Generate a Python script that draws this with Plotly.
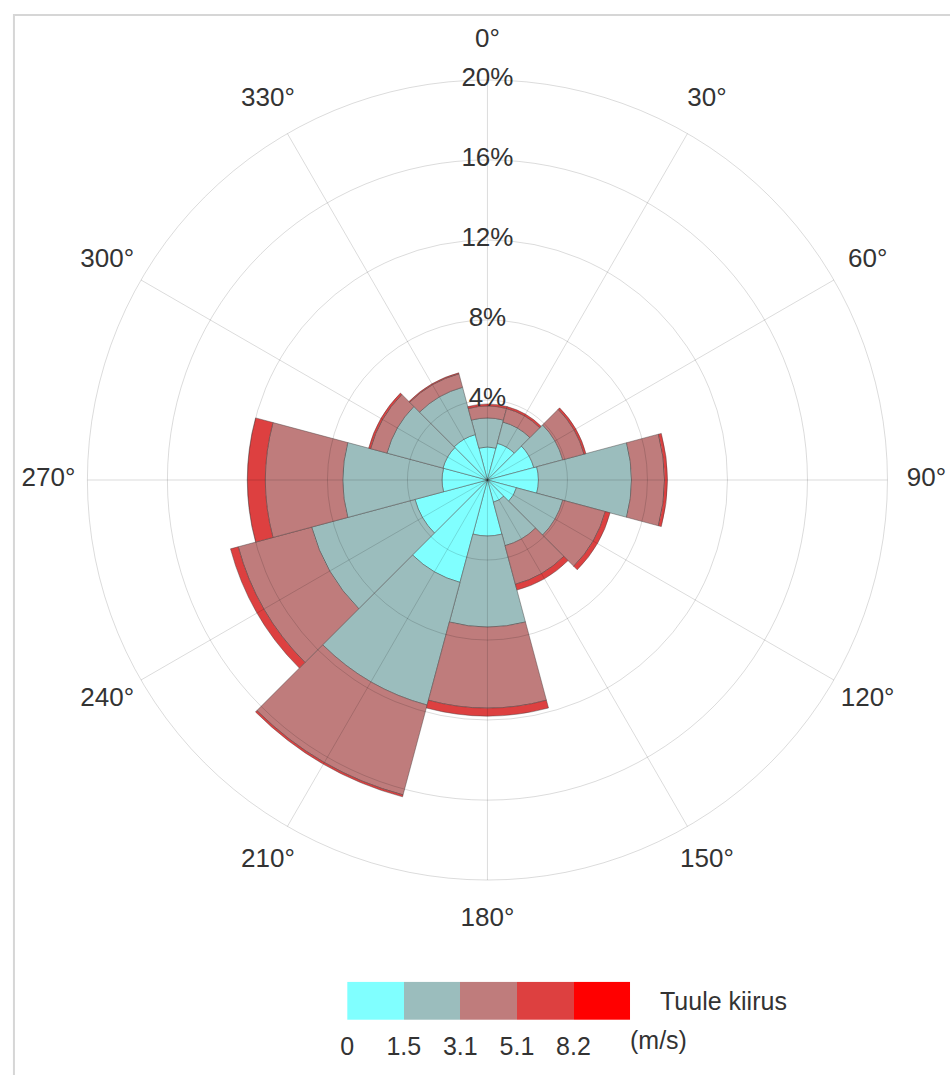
import plotly.graph_objects as go

# ---- data (percent frequency per direction and speed bin) ----
directions = [0, 30, 60, 90, 120, 150, 180, 210, 240, 270, 300, 330]
direction_labels = ["0°", "30°", "60°", "90°", "120°", "150°",
                    "180°", "210°", "240°", "270°", "300°", "330°"]
speed_bins = ["0", "1.5", "3.1", "5.1", "8.2"]
bin_colors = ["#80ffff", "#9bbdbd", "#bf7c7c", "#dd4040", "#ff0000"]
freq_0_15 = [1.65, 1.9, 2.4, 2.55, 1.5, 1.15, 2.8, 5.3, 3.75, 2.27, 2.3, 2.35]
freq_15_31 = [1.45, 1.1, 1.5, 4.65, 2.4, 2.25, 4.55, 6.35, 5.35, 4.96, 2.9, 2.45]
freq_31_51 = [0.6, 0.7, 1.1, 1.65, 2.2, 2.0, 4.05, 4.65, 3.8, 3.87, 0.85, 0.7]
freq_51_82 = [0.1, 0.1, 0.1, 0.15, 0.25, 0.3, 0.4, 0.1, 0.4, 0.9, 0.1, 0.05]
freq_82_up = [0, 0, 0, 0, 0, 0, 0, 0, 0, 0, 0, 0]
radial_ticks = [4, 8, 12, 16, 20]
radial_labels = ["4%", "8%", "12%", "16%", "20%"]
legend_title = "Tuule kiirus"
legend_unit = "(m/s)"

series = [freq_0_15, freq_15_31, freq_31_51, freq_51_82, freq_82_up]

W, H = 950, 1075
FONT = "Liberation Sans, Arial, sans-serif"
TXT = "#333333"
GRID = "rgba(0,0,0,0.14)"
R_MAX = 20
LABEL_R = 21.95  # radius (in axis units) where the direction labels are centred


def px(x):
    return x / W


def py(y):
    return 1 - y / H


# polar area (pixels) -> paper domain
cx, cy, R = 484, 480, 403
dom = dict(x=[px(cx - R), px(cx + R)], y=[py(cy + R), py(cy - R)])
# a larger, invisible polar area with the same scale, for the direction labels
R3 = 460
dom3 = dict(x=[px(cx - R3), px(cx + R3)], y=[py(cy + R3), py(cy - R3)])
R3_MAX = R_MAX * R3 / R

fig = go.Figure()
for vals, col, name in zip(series, bin_colors, speed_bins):
    fig.add_trace(go.Barpolar(
        r=vals, theta=directions, width=[30] * len(directions),
        marker=dict(color=col, line=dict(color="rgba(70,60,60,0.55)", width=0.8)),
        name=name, subplot="polar", hoverinfo="skip", showlegend=False,
    ))

# radial percentage labels on the top (grid) subplot
fig.add_trace(go.Scatterpolar(
    r=radial_ticks, theta=[0] * len(radial_ticks), text=radial_labels,
    mode="text", textposition="middle center", cliponaxis=False,
    textfont=dict(family=FONT, size=26, color=TXT),
    subplot="polar2", hoverinfo="skip", showlegend=False,
))

# direction labels, centred on a circle just outside the plot
fig.add_trace(go.Scatterpolar(
    r=[LABEL_R] * len(directions), theta=directions, text=direction_labels,
    mode="text", textposition="middle center", cliponaxis=False,
    textfont=dict(family=FONT, size=26, color=TXT),
    subplot="polar3", hoverinfo="skip", showlegend=False,
))

# legend colour strip as a heatmap
n = len(speed_bins)
cs = []
for i, c in enumerate(bin_colors):
    cs.append([i / n, c])
    cs.append([(i + 1) / n, c])
fig.add_trace(go.Heatmap(
    z=[list(range(n))], x=[i + 0.5 for i in range(n)], y=[0],
    colorscale=cs, zmin=-0.5, zmax=n - 0.5, showscale=False,
    hoverinfo="skip", xaxis="x", yaxis="y",
))

hidden_radial = dict(showgrid=False, showticklabels=False, showline=False, ticks="")
hidden_angular = dict(rotation=90, direction="clockwise", showgrid=False,
                      showticklabels=False, showline=False, ticks="")
fig.update_layout(
    width=W, height=H,
    margin=dict(l=0, r=0, t=0, b=0),
    paper_bgcolor="white", plot_bgcolor="white",
    font=dict(family=FONT, size=26, color=TXT),
    polar=dict(
        domain=dom, bgcolor="white",
        radialaxis=dict(range=[0, R_MAX], **hidden_radial),
        angularaxis=hidden_angular,
    ),
    polar2=dict(
        domain=dom, bgcolor="rgba(0,0,0,0)",
        radialaxis=dict(range=[0, R_MAX], tickvals=radial_ticks, showgrid=True,
                        gridcolor=GRID, gridwidth=1, showticklabels=False,
                        showline=False, ticks=""),
        angularaxis=dict(rotation=90, direction="clockwise",
                         tickmode="array", tickvals=directions,
                         showgrid=True, gridcolor=GRID, gridwidth=1,
                         showline=True, linecolor=GRID, linewidth=1,
                         showticklabels=False, ticks=""),
    ),
    polar3=dict(
        domain=dom3, bgcolor="rgba(0,0,0,0)",
        radialaxis=dict(range=[0, R3_MAX], **hidden_radial),
        angularaxis=hidden_angular,
    ),
    xaxis=dict(domain=[px(342.7), px(627.7)], range=[0, n], anchor="y",
               tickmode="array", tickvals=list(range(n)), ticktext=speed_bins,
               ticks="outside", ticklen=4, tickcolor="rgba(0,0,0,0)",
               tickfont=dict(family=FONT, size=25, color=TXT),
               showgrid=False, zeroline=False, showline=False, fixedrange=True),
    yaxis=dict(domain=[py(1020), py(981.7)], range=[-0.5, 0.5], anchor="x",
               showticklabels=False, showgrid=False, zeroline=False, ticks="",
               fixedrange=True),
    annotations=[
        dict(text=legend_title, x=px(656), y=py(1001), xref="paper", yref="paper",
             xanchor="left", yanchor="middle", showarrow=False,
             font=dict(family=FONT, size=25, color=TXT)),
        dict(text=legend_unit, x=px(626), y=py(1040), xref="paper", yref="paper",
             xanchor="left", yanchor="middle", showarrow=False,
             font=dict(family=FONT, size=25, color=TXT)),
    ],
    shapes=[dict(type="rect", xref="paper", yref="paper",
                 x0=px(7), x1=1.05, y0=-0.05, y1=py(15),
                 line=dict(color="#d6d6d6", width=2), fillcolor="rgba(0,0,0,0)",
                 layer="below")],
)

# remove the browser's default page margin so the figure fills the window exactly
fig.write_html("out.html", config={"displayModeBar": False},
               post_script="document.body.style.margin='0';")
